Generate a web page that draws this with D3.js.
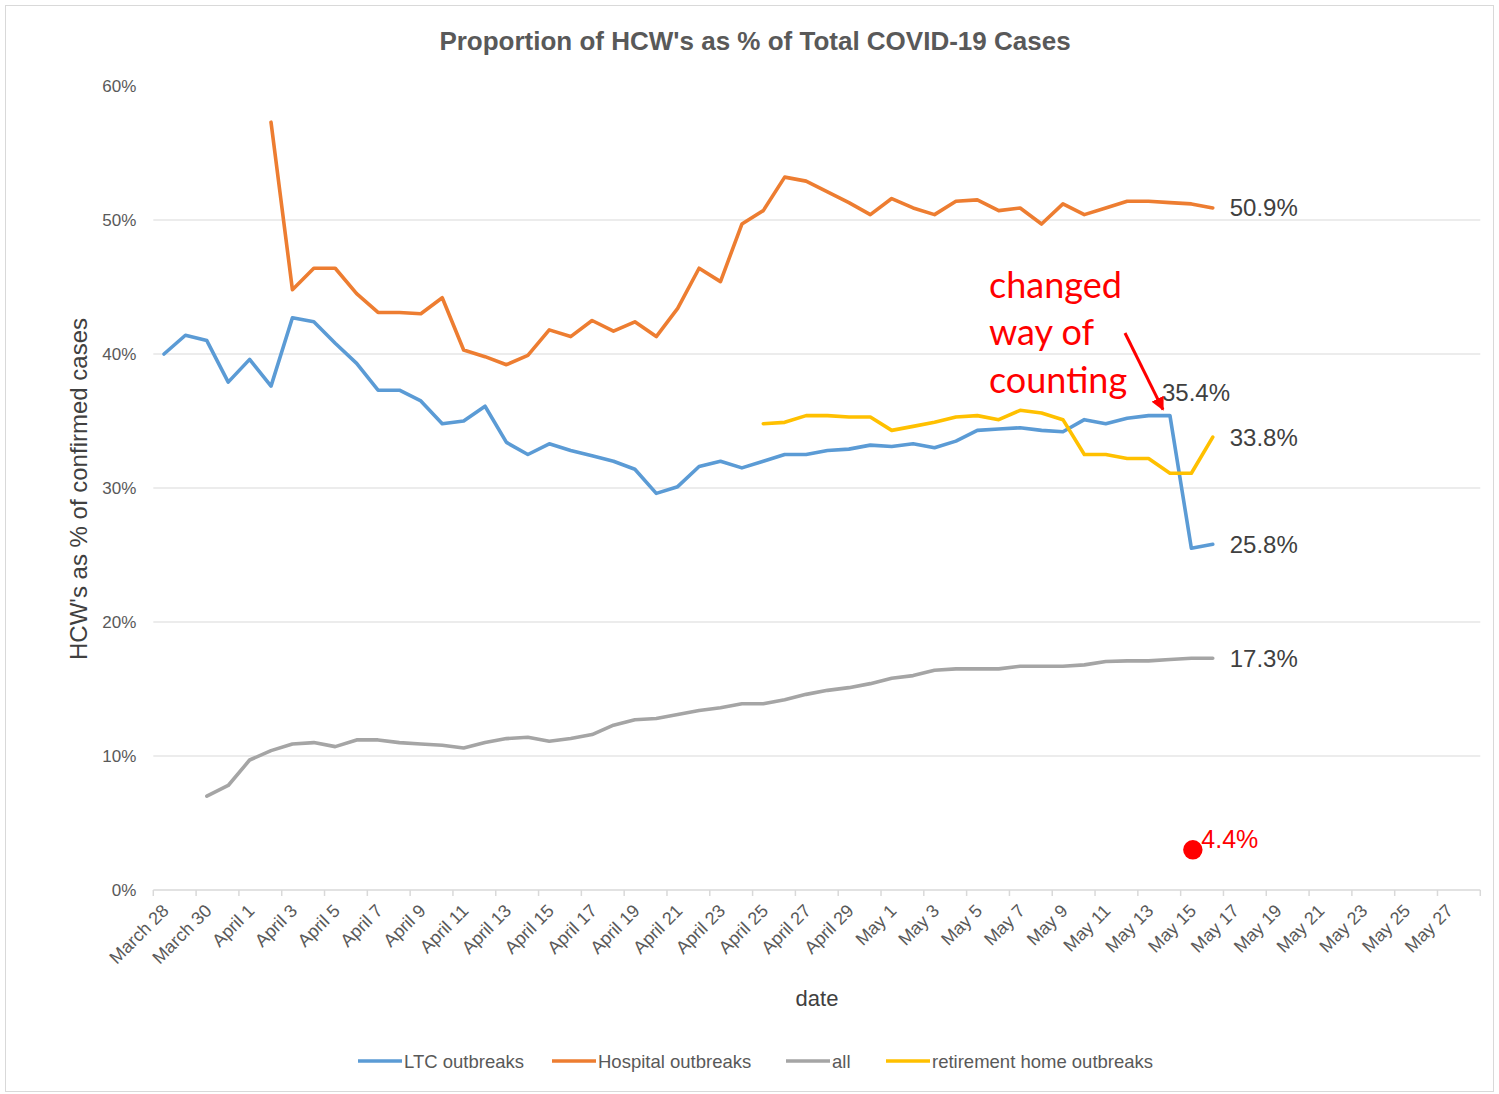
<!DOCTYPE html>
<html>
<head>
<meta charset="utf-8">
<script src="https://cdn.jsdelivr.net/npm/d3@7/dist/d3.min.js"></script>
<style>
	body { margin: 0; background: #fff; }
	text { font-family: "Liberation Sans", Arial, sans-serif; }
</style>
</head>
<body>
<div id="chart-area"></div>
<script>
// SVG Size
let width = 1499,
	height = 1094;

// one category per day, March 28 to May 28 (2020)
let days = d3.timeDay.range(new Date(2020, 2, 28), new Date(2020, 4, 29));

// series values, % of confirmed cases, each starting on its first day
let ltcStart = new Date(2020, 2, 28);
let ltcValues = [
	40.0, 41.4, 41.0, 37.9, 39.6, 37.6, 42.7, 42.4, 40.8, 39.3,
	37.3, 37.3, 36.5, 34.8, 35.0, 36.1, 33.4, 32.5, 33.3, 32.8,
	32.4, 32.0, 31.4, 29.6, 30.1, 31.6, 32.0, 31.5, 32.0, 32.5,
	32.5, 32.8, 32.9, 33.2, 33.1, 33.3, 33.0, 33.5, 34.3, 34.4,
	34.5, 34.3, 34.2, 35.1, 34.8, 35.2, 35.4, 35.4, 25.5, 25.8
];

let hospitalStart = new Date(2020, 3, 2);
let hospitalValues = [
	57.3, 44.8, 46.4, 46.4, 44.5, 43.1, 43.1, 43.0, 44.2, 40.3,
	39.8, 39.2, 39.9, 41.8, 41.3, 42.5, 41.7, 42.4, 41.3, 43.4,
	46.4, 45.4, 49.7, 50.7, 53.2, 52.9, 52.1, 51.3, 50.4, 51.6,
	50.9, 50.4, 51.4, 51.5, 50.7, 50.9, 49.7, 51.2, 50.4, 50.9,
	51.4, 51.4, 51.3, 51.2, 50.9
];

let allStart = new Date(2020, 2, 30);
let allValues = [
	7.0, 7.8, 9.7, 10.4, 10.9, 11.0, 10.7, 11.2, 11.2, 11.0,
	10.9, 10.8, 10.6, 11.0, 11.3, 11.4, 11.1, 11.3, 11.6, 12.3,
	12.7, 12.8, 13.1, 13.4, 13.6, 13.9, 13.9, 14.2, 14.6, 14.9,
	15.1, 15.4, 15.8, 16.0, 16.4, 16.5, 16.5, 16.5, 16.7, 16.7,
	16.7, 16.8, 17.05, 17.1, 17.1, 17.2, 17.3, 17.3
];

let retirementStart = new Date(2020, 3, 25);
let retirementValues = [
	34.8, 34.9, 35.4, 35.4, 35.3, 35.3, 34.3, 34.6, 34.9, 35.3,
	35.4, 35.1, 35.8, 35.6, 35.1, 32.5, 32.5, 32.2, 32.2, 31.1,
	31.1, 33.8
];

// single red point added by hand
let newCountDate = new Date(2020, 4, 15);
let newCountValue = 3.0;
let newCountLabel = "4.4%";

let seriesNames = ["LTC outbreaks", "Hospital outbreaks", "all", "retirement home outbreaks"];
let seriesColors = ["#5B9BD5", "#ED7D31", "#A5A5A5", "#FFC000"];
let yTicks = [0, 10, 20, 30, 40, 50, 60];

function toPoints(start, values) {
	return values.map((v, i) => ({ date: d3.timeDay.offset(start, i), value: v }));
}

let series = [
	toPoints(ltcStart, ltcValues),
	toPoints(hospitalStart, hospitalValues),
	toPoints(allStart, allValues),
	toPoints(retirementStart, retirementValues)
];

drawChart(series);

function drawChart(series) {
	let svg = d3.select("#chart-area")
		.append("svg")
		.attr("width", width)
		.attr("height", height);

	// outer frame
	svg.append("rect")
		.attr("x", 5.5).attr("y", 5.5)
		.attr("width", 1488).attr("height", 1086)
		.attr("fill", "none")
		.attr("stroke", "#d9d9d9");

	let x = d3.scaleBand()
		.domain(days.map(d => +d))
		.range([153.3, 1480.3]);
	let bw = x.bandwidth();
	let cx = d => x(+d) + bw / 2;

	let y = d3.scaleLinear()
		.domain([0, 60])
		.range([890, 86]);

	// title
	svg.append("text")
		.attr("x", 755)
		.attr("y", 50)
		.attr("text-anchor", "middle")
		.attr("font-size", 26)
		.attr("font-weight", "bold")
		.attr("fill", "#595959")
		.text("Proportion of HCW's as % of Total COVID-19 Cases");

	// gridlines
	svg.append("g")
		.selectAll("line")
		.data(yTicks.filter(t => t > 0 && t < 60))
		.enter()
		.append("line")
		.attr("x1", 153.3).attr("x2", 1480.3)
		.attr("y1", d => y(d)).attr("y2", d => y(d))
		.attr("stroke", "#d9d9d9")
		.attr("stroke-width", 1.2);

	// y axis labels
	let yAxis = d3.axisLeft(y)
		.tickValues(yTicks)
		.tickFormat(d => d + "%")
		.tickSize(0)
		.tickPadding(17);
	let gy = svg.append("g")
		.attr("transform", "translate(153.3,0)")
		.call(yAxis);
	gy.select(".domain").remove();
	gy.selectAll("text")
		.attr("font-size", 17)
		.attr("fill", "#595959")
		.style("font-family", "'Liberation Sans', Arial, sans-serif");

	// x axis line and ticks
	let gx = svg.append("g");
	gx.append("line")
		.attr("x1", 153.3).attr("x2", 1480.3)
		.attr("y1", 890).attr("y2", 890)
		.attr("stroke", "#d9d9d9")
		.attr("stroke-width", 1.5);
	let tickDays = days.filter((d, i) => i % 2 === 0);
	let tickX = tickDays.map(d => x(+d)).concat([x.range()[1]]);
	gx.selectAll(".tick")
		.data(tickX)
		.enter()
		.append("line")
		.attr("x1", d => d).attr("x2", d => d)
		.attr("y1", 890).attr("y2", 896)
		.attr("stroke", "#d9d9d9")
		.attr("stroke-width", 1.5);

	let fmt = d3.timeFormat("%B %-d");
	gx.selectAll(".label")
		.data(tickDays)
		.enter()
		.append("text")
		.attr("transform", d => "translate(" + (cx(d) - 3) + ",903) rotate(-45)")
		.attr("text-anchor", "end")
		.attr("dy", "0.7em")
		.attr("font-size", 18)
		.attr("fill", "#595959")
		.text(d => fmt(d));

	// axis titles
	svg.append("text")
		.attr("x", 817)
		.attr("y", 1006)
		.attr("text-anchor", "middle")
		.attr("font-size", 22)
		.attr("fill", "#404040")
		.text("date");

	svg.append("text")
		.attr("transform", "translate(87,489) rotate(-90)")
		.attr("text-anchor", "middle")
		.attr("font-size", 24)
		.attr("fill", "#404040")
		.text("HCW's as % of confirmed cases");

	// lines
	let line = d3.line()
		.x(d => cx(d.date))
		.y(d => y(d.value));

	svg.append("g")
		.selectAll("path")
		.data(series)
		.enter()
		.append("path")
		.attr("d", line)
		.attr("fill", "none")
		.attr("stroke", (d, i) => seriesColors[i])
		.attr("stroke-width", 3.6)
		.attr("stroke-linejoin", "round")
		.attr("stroke-linecap", "round");

	// end labels
	svg.append("g")
		.selectAll("text")
		.data(series)
		.enter()
		.append("text")
		.attr("x", d => cx(d[d.length - 1].date) + 17)
		.attr("y", d => y(d[d.length - 1].value) + 8.5)
		.attr("font-size", 24)
		.attr("fill", "#404040")
		.text(d => d3.format(".1f")(d[d.length - 1].value) + "%");

	// LTC label before the drop
	let ltcPeak = series[0][series[0].length - 3];
	svg.append("text")
		.attr("x", cx(ltcPeak.date) - 8)
		.attr("y", y(ltcPeak.value) - 15)
		.attr("font-size", 24)
		.attr("fill", "#404040")
		.text(d3.format(".1f")(ltcPeak.value) + "%");

	// red point
	svg.append("circle")
		.attr("cx", cx(newCountDate) + 1.5)
		.attr("cy", y(newCountValue))
		.attr("r", 9.7)
		.attr("fill", "#FF0000");
	svg.append("text")
		.attr("x", cx(newCountDate) + 10)
		.attr("y", y(newCountValue) - 1.5)
		.attr("font-size", 25)
		.attr("fill", "#FF0000")
		.text(newCountLabel);

	// annotation
	let note = svg.append("text")
		.attr("x", 989)
		.attr("y", 298)
		.attr("font-size", 36)
		.attr("fill", "#FF0000")
		.style("font-family", "Lato, 'Open Sans', sans-serif");
	["changed", "way of", "counting"].forEach((t, i) => {
		note.append("tspan")
			.attr("x", 989)
			.attr("dy", i === 0 ? 0 : 47.3)
			.text(t);
	});

	svg.append("defs").append("marker")
		.attr("id", "arrow")
		.attr("viewBox", "0 0 10 10")
		.attr("refX", 9).attr("refY", 5)
		.attr("markerWidth", 4.5).attr("markerHeight", 4.5)
		.attr("orient", "auto")
		.append("path")
		.attr("d", "M0,0L10,5L0,10z")
		.attr("fill", "#FF0000");

	svg.append("line")
		.attr("x1", 1125).attr("y1", 333)
		.attr("x2", cx(ltcPeak.date) - 7).attr("y2", y(ltcPeak.value) - 6)
		.attr("stroke", "#FF0000")
		.attr("stroke-width", 3)
		.attr("marker-end", "url(#arrow)");

	// legend
	let legendX = [358, 552, 786, 886];
	let legend = svg.append("g")
		.selectAll("g")
		.data(seriesNames)
		.enter()
		.append("g")
		.attr("transform", (d, i) => "translate(" + legendX[i] + ",1061)");
	legend.append("line")
		.attr("x1", 0).attr("x2", 44)
		.attr("stroke", (d, i) => seriesColors[i])
		.attr("stroke-width", 3.6);
	legend.append("text")
		.attr("x", 46)
		.attr("y", 6.5)
		.attr("font-size", 18.5)
		.attr("fill", "#595959")
		.text(d => d);
}
</script>
</body>
</html>
